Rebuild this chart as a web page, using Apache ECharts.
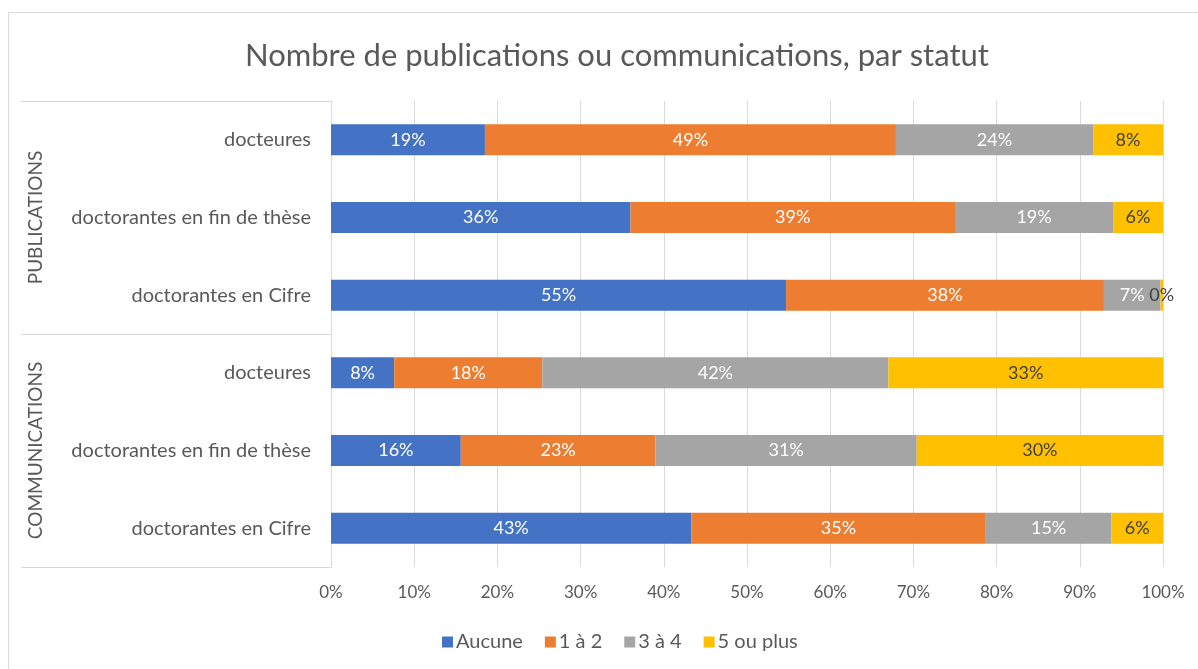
<!DOCTYPE html>
<html>
<head>
<meta charset="utf-8">
<script src="https://cdn.jsdelivr.net/npm/echarts@6/dist/echarts.min.js"></script>
<style>
  html, body { margin: 0; padding: 0; background: #fff; }
  #chart { width: 1198px; height: 669px; }
</style>
</head>
<body>
<div id="chart"></div>
<script>
// categories, top to bottom
const statuts = [
  'docteures', 'doctorantes en fin de thèse', 'doctorantes en Cifre',
  'docteures', 'doctorantes en fin de thèse', 'doctorantes en Cifre'
];
const groupes = ['PUBLICATIONS', 'COMMUNICATIONS'];
const seriesNames = ['Aucune', '1 à 2', '3 à 4', '5 ou plus'];

// parts in %
const aucune = [18.5, 36.0, 54.7, 7.6, 15.6, 43.3];
const unADeux = [49.4, 39.0, 38.2, 17.8, 23.4, 35.4];
const troisAQuatre = [23.7, 19.0, 6.8, 41.6, 31.4, 15.1];
const cinqOuPlus = [8.4, 6.0, 0.3, 33.0, 29.6, 6.2];

const colors = ['#4472C4', '#ED7D31', '#A5A5A5', '#FFC000'];
const font = 'Lato';
const grey = '#595959';

const chart = echarts.init(document.getElementById('chart'));

function makeSerie(name, data, color, labelColor) {
  return {
    name: name,
    type: 'bar',
    stack: 'total',
    yAxisIndex: 0,
    barWidth: 31,
    itemStyle: { color: color },
    label: {
      show: true,
      position: 'inside',
      color: labelColor,
      fontFamily: font,
      fontSize: 18,
      formatter: (p) => Math.round(p.value) + '%'
    },
    data: data
  };
}

chart.setOption({
  backgroundColor: '#fff',
  color: colors,
  textStyle: { fontFamily: font },
  title: {
    text: 'Nombre de publications ou communications, par statut',
    left: 240,
    top: 35,
    textStyle: { fontFamily: font, fontSize: 31, fontWeight: 'normal', color: grey }
  },
  legend: {
    data: seriesNames,
    left: 437,
    top: 627,
    icon: 'rect',
    itemWidth: 11,
    itemHeight: 11,
    itemGap: 22,
    textStyle: { fontFamily: font, fontSize: 20, color: grey, padding: [0, 0, 0, -2] }
  },
  grid: { left: 331, right: 35, top: 101, bottom: 102, containLabel: false },
  xAxis: {
    type: 'value',
    min: 0,
    max: 100,
    interval: 10,
    axisLine: { show: false },
    axisTick: { show: false },
    splitLine: { lineStyle: { color: '#d9d9d9' } },
    axisLabel: { formatter: '{value}%', fontFamily: font, fontSize: 17, color: grey, margin: 17 }
  },
  yAxis: [{
    type: 'category',
    inverse: true,
    data: statuts,
    axisLine: { show: true, lineStyle: { color: '#d9d9d9' } },
    axisTick: { show: false },
    axisLabel: { fontFamily: font, fontSize: 20, color: grey, margin: 20 }
  }, {
    type: 'category',
    inverse: true,
    position: 'left',
    data: groupes,
    axisLine: { show: true, lineStyle: { color: '#d9d9d9' } },
    axisTick: { show: true, length: 310, lineStyle: { color: '#d9d9d9' } },
    axisLabel: { rotate: 90, fontFamily: font, fontSize: 19, color: grey, margin: 286 }
  }],
  series: [
    makeSerie(seriesNames[0], aucune, colors[0], '#fff'),
    makeSerie(seriesNames[1], unADeux, colors[1], '#fff'),
    makeSerie(seriesNames[2], troisAQuatre, colors[2], '#fff'),
    makeSerie(seriesNames[3], cinqOuPlus, colors[3], '#404040')
  ],
  graphic: [{
    type: 'rect',
    shape: { x: 8.5, y: 12.5, width: 1300, height: 800 },
    style: { fill: null, stroke: '#d9d9d9', lineWidth: 1 },
    silent: true
  }]
});
</script>
</body>
</html>
